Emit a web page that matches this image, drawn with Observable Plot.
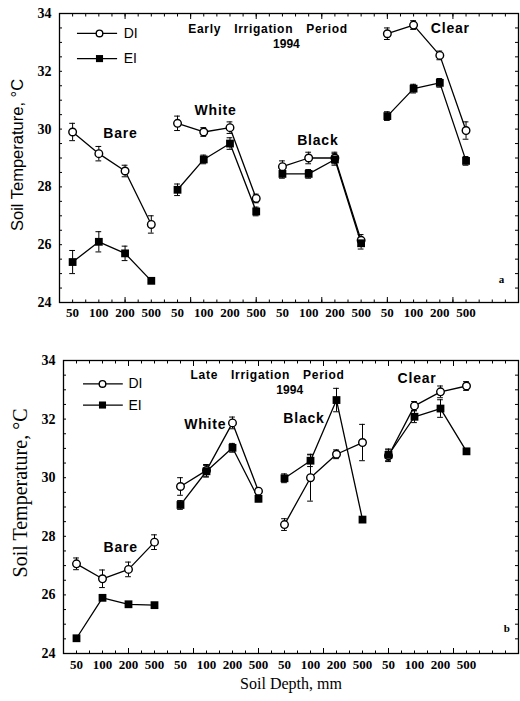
<!DOCTYPE html>
<html><head><meta charset="utf-8">
<script src="https://cdn.jsdelivr.net/npm/d3@7"></script>
<script src="https://cdn.jsdelivr.net/npm/@observablehq/plot@0.6"></script>
<style>body{margin:0;background:#fff} svg{display:block;background:#fff}</style>
</head><body><div id="chart"></div>
<script>
// ---- data ----
const depths = ["50", "100", "200", "500"];
const groups = ["Bare", "White", "Black", "Clear"];
const seriesNames = ["DI", "EI"];
const yTicks = [24, 26, 28, 30, 32, 34];

// Early irrigation period 1994 (panel a), order: groups x depths
const earlyDI    = [29.9, 29.15, 28.55, 26.7,  30.2, 29.9, 30.05, 27.6,  28.7, 29.0, 29.0, 26.15,  33.3, 33.6, 32.55, 29.95];
const earlyDIerr = [0.3, 0.25, 0.2, 0.3,  0.25, 0.15, 0.2, 0.15,  0.2, 0.2, 0.2, 0.2,  0.2, 0.15, 0.15, 0.3];
const earlyEI    = [25.4, 26.1, 25.7, 24.75,  27.9, 28.95, 29.5, 27.15,  28.45, 28.45, 28.95, 26.05,  30.45, 31.4, 31.6, 28.9];
const earlyEIerr = [0.4, 0.35, 0.25, 0.05,  0.2, 0.15, 0.2, 0.15,  0.15, 0.15, 0.2, 0.2,  0.15, 0.15, 0.15, 0.15];

// Late irrigation period 1994 (panel b)
const lateDI    = [27.06, 26.55, 26.87, 27.8,  29.7, 30.25, 31.87, 29.54,  28.4, 30.0, 30.8, 31.2,  30.75, 32.45, 32.93, 33.13];
const lateDIerr = [0.2, 0.3, 0.25, 0.25,  0.3, 0.2, 0.2, 0.1,  0.2, 0.8, 0.15, 0.62,  0.2, 0.15, 0.2, 0.15];
const lateEI    = [24.52, 25.9, 25.68, 25.65,  29.07, 30.22, 31.02, 29.28,  29.98, 30.58, 32.65, 28.57,  30.78, 32.08, 32.36, 30.9];
const lateEIerr = [0.05, 0.05, 0.05, 0.05,  0.15, 0.2, 0.15, 0.1,  0.15, 0.2, 0.4, 0.05,  0.2, 0.2, 0.3, 0.05];

function buildRows(di, diErr, ei, eiErr) {
  const rows = [];
  groups.forEach((g, gi) => depths.forEach((d, k) => {
    const i = gi * 4 + k;
    rows.push({series: "DI", group: g, depth: d, u: 2 * i + 1, t: di[i], e: diErr[i]});
    rows.push({series: "EI", group: g, depth: d, u: 2 * i + 1, t: ei[i], e: eiErr[i]});
  }));
  return rows;
}

const panels = [
  {
    rows: buildRows(earlyDI, earlyDIerr, earlyEI, earlyEIerr),
    height: 335, marginTop: 13, marginBottom: 33, marginLeft: 59,
    title: ["Early Irrigation Period", "1994"],
    layout: {
      titleU: [15.9, 17.3], titleT: [33.45, 32.93],
      labelU: [4.65, 11.9, 19.7, 29.8], labelT: [29.85, 30.64, 29.6, 33.48],
      letter: "a", letterU: 33.7, letterT: 24.8,
      legU1: 1.37, legU2: 4.43, legDot: 3.05, legText: 4.9, legT: [33.31, 32.44],
      tickPad: 5, yLabelFont: "Liberation Sans, Arial, sans-serif", yLabelSize: 16.5, yLabelDx: -42, yLabelDy: -3
    },
    xLabel: null
  },
  {
    rows: buildRows(lateDI, lateDIerr, lateEI, lateEIerr),
    height: 366, marginTop: 25, marginBottom: 48, marginLeft: 63,
    title: ["Late Irrigation Period", "1994"],
    layout: {
      titleU: [15.7, 17.4], titleT: [33.5, 33.0],
      labelU: [4.4, 10.9, 18.5, 27.2], labelT: [27.62, 31.8, 32.03, 33.4],
      letter: "b", letterU: 34.1, letterT: 24.85,
      legU1: 1.54, legU2: 4.6, legDot: 3.0, legText: 5.0, legT: [33.2, 32.48],
      tickPad: 6, yLabelFont: "Liberation Serif, Times New Roman, serif", yLabelSize: 20, yLabelDx: -43, yLabelDy: -14
    },
    xLabel: "Soil Depth, mm"
  }
];

const serif = "Liberation Serif, Times New Roman, serif";
const sans = "Liberation Sans, Arial, sans-serif";

for (const p of panels) {
  const L = p.layout;
  const rows = p.rows;
  const legendRows = seriesNames.map((s, i) => ({series: s, t: L.legT[i]}));
  const labelRows = groups.map((g, i) => ({text: g, u: L.labelU[i], t: L.labelT[i]}));
  const titleRows = p.title.map((s, i) => ({text: s, u: L.titleU[i], t: L.titleT[i]}));
  const pointU = rows.filter(d => d.series === "DI").map(d => d.u);

  const chart = Plot.plot({
    width: 520, height: p.height,
    marginTop: p.marginTop, marginBottom: p.marginBottom, marginLeft: p.marginLeft, marginRight: 2,
    style: {fontFamily: sans, color: "black", background: "white"},
    x: {domain: [0, 35], axis: null},
    y: {domain: [24, 34], axis: null},
    marks: [
      // tick labels
      Plot.axisY({ticks: yTicks, tickSize: 0, tickPadding: 8, fontFamily: serif, fontWeight: "bold", fontSize: 14, label: null}),
      Plot.axisX({ticks: pointU, tickSize: 0, tickPadding: L.tickPad, tickFormat: u => depths[((u - 1) / 2) % 4], fontFamily: serif, fontWeight: "bold", fontSize: 13, label: null}),
      // inward ticks
      Plot.axisY({anchor: "left", ticks: d3.range(24, 34.01, 0.5), tickSize: -3, tickFormat: () => "", label: null}),
      Plot.axisY({anchor: "right", ticks: d3.range(24, 34.01, 0.5), tickSize: -4, tickFormat: () => "", label: null}),
      Plot.axisX({anchor: "bottom", ticks: d3.range(0, 35.01, 1), tickSize: -2.5, tickFormat: () => "", label: null}),
      Plot.axisX({anchor: "bottom", ticks: d3.range(0, 35.01, 5), tickSize: -5, tickFormat: () => "", label: null}),
      Plot.axisX({anchor: "top", ticks: d3.range(0, 35.01, 1), tickSize: -2.5, tickFormat: () => "", label: null}),
      Plot.axisX({anchor: "top", ticks: d3.range(0, 35.01, 5), tickSize: -5, tickFormat: () => "", label: null}),
      Plot.frame({stroke: "black", strokeWidth: 1.3}),
      // y label
      Plot.text(["Soil Temperature, °C"], {frameAnchor: "left", text: d => d, textAnchor: "middle", lineAnchor: "middle", rotate: -90, dx: L.yLabelDx, dy: L.yLabelDy, fontFamily: L.yLabelFont, fontSize: L.yLabelSize, fill: "black"}),
      // error bars
      Plot.ruleX(rows, {x: "u", y1: d => d.t - d.e, y2: d => d.t + d.e, stroke: "black", strokeWidth: 1}),
      Plot.ruleY(rows, {y: d => d.t + d.e, x1: d => d.u - 0.22, x2: d => d.u + 0.22, stroke: "black", strokeWidth: 1}),
      Plot.ruleY(rows, {y: d => d.t - d.e, x1: d => d.u - 0.22, x2: d => d.u + 0.22, stroke: "black", strokeWidth: 1}),
      // lines
      Plot.line(rows, {x: "u", y: "t", z: d => d.series + d.group, stroke: "black", strokeWidth: 1.3}),
      // markers
      Plot.dot(rows.filter(d => d.series === "DI"), {x: "u", y: "t", symbol: "circle", r: 3.8, fill: "white", stroke: "black", strokeWidth: 1.4}),
      Plot.dot(rows.filter(d => d.series === "EI"), {x: "u", y: "t", symbol: "square", r: 4.4, fill: "black", stroke: "none"}),
      // legend
      Plot.ruleY(legendRows, {y: "t", x1: L.legU1, x2: L.legU2, stroke: "black", strokeWidth: 1.2}),
      Plot.dot(legendRows.filter(d => d.series === "DI"), {x: L.legDot, y: "t", symbol: "circle", r: 3.3, fill: "white", stroke: "black", strokeWidth: 1.4}),
      Plot.dot(legendRows.filter(d => d.series === "EI"), {x: L.legDot, y: "t", symbol: "square", r: 4, fill: "black"}),
      Plot.text(legendRows, {x: L.legText, y: "t", text: "series", textAnchor: "start", fontFamily: sans, fontSize: 14, fill: "black"}),
      // group labels
      Plot.text(labelRows, {x: "u", y: "t", text: "text", fontFamily: sans, fontWeight: "bold", fontSize: 14, fill: "black"}),
      // title
      Plot.text(titleRows, {x: "u", y: "t", text: "text", fontFamily: sans, fontWeight: "bold", fontSize: 12, fill: "black"}),
      // panel letter
      Plot.text([L.letter], {x: L.letterU, y: L.letterT, text: d => d, fontFamily: serif, fontWeight: "bold", fontSize: 11, fill: "black"}),
      // x axis title
      ...(p.xLabel ? [Plot.text([p.xLabel], {frameAnchor: "bottom", text: d => d, dy: 35, fontFamily: serif, fontSize: 16, fill: "black"})] : [])
    ]
  });
  d3.select(chart).selectAll("text").filter(function() {
    return this.textContent === p.title[0];
  }).style("word-spacing", "9px").style("letter-spacing", "0.7px");
  d3.select(chart).selectAll("text").filter(function() {
    return groups.includes(this.textContent);
  }).style("letter-spacing", "0.8px");
  document.getElementById("chart").appendChild(chart);
}
</script>
</body></html>
